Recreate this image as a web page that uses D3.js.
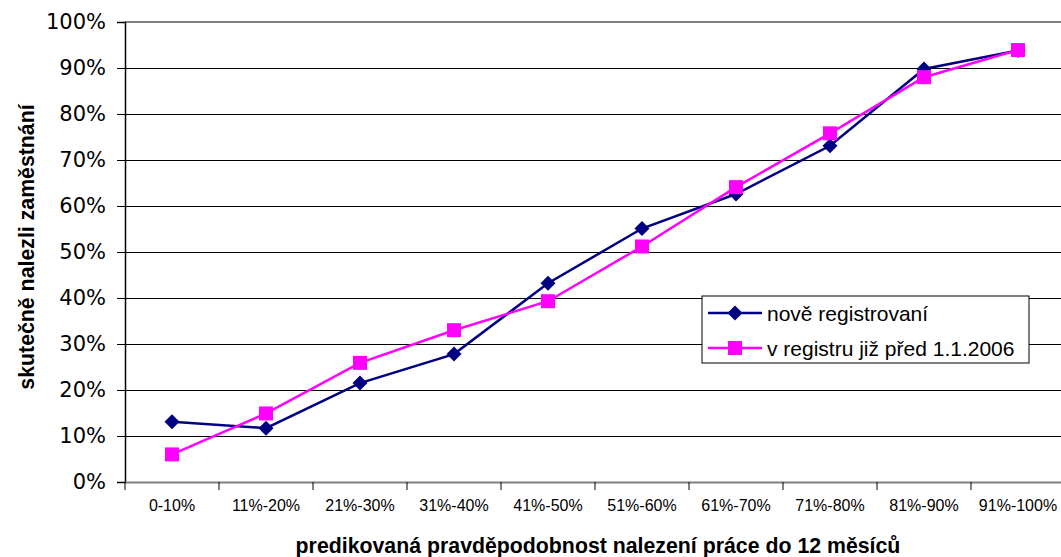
<!DOCTYPE html>
<html>
<head>
<meta charset="utf-8">
<script src="https://cdn.jsdelivr.net/npm/d3@7"></script>
<style>
  html, body { margin: 0; padding: 0; background: #fff; }
  svg { display: block; }
</style>
</head>
<body>
<svg id="chart" width="1061" height="557"></svg>
<script>
// Predicted vs. actual job-finding rate by prediction band
const categories = ["0-10%", "11%-20%", "21%-30%", "31%-40%", "41%-50%", "51%-60%", "61%-70%", "71%-80%", "81%-90%", "91%-100%"];
const novyRegistrovani = [0.131, 0.117, 0.215, 0.278, 0.432, 0.551, 0.626, 0.731, 0.898, 0.938];
const vRegistru = [0.060, 0.149, 0.259, 0.330, 0.393, 0.512, 0.641, 0.758, 0.880, 0.939];
const yTicks = [0, 0.1, 0.2, 0.3, 0.4, 0.5, 0.6, 0.7, 0.8, 0.9, 1.0];

const seriesList = [
  { name: "nově registrovaní", values: novyRegistrovani, color: "#000080", marker: "diamond" },
  { name: "v registru již před 1.1.2006", values: vRegistru, color: "#FF00FF", marker: "square" }
];

const svg = d3.select("#chart");
const plot = { left: 125, right: 1065, top: 22, bottom: 482 };
const sans = "Arial, 'Liberation Sans', sans-serif";

const x = d3.scaleBand().domain(categories).range([plot.left, plot.right]);
const y = d3.scaleLinear().domain([0, 1]).range([plot.bottom, plot.top]);

// horizontal gridlines
svg.append("g")
  .selectAll("line")
  .data(yTicks.filter(t => t > 0 && t < 1))
  .join("line")
  .attr("x1", plot.left).attr("x2", plot.right)
  .attr("y1", d => y(d)).attr("y2", d => y(d))
  .attr("stroke", "#000").attr("stroke-width", 1)
  .attr("shape-rendering", "crispEdges");

// top border of plot area
svg.append("line")
  .attr("x1", plot.left).attr("x2", plot.right)
  .attr("y1", y(1)).attr("y2", y(1))
  .attr("stroke", "#808080").attr("stroke-width", 2);

// y axis
const yAxis = svg.append("g")
  .attr("transform", `translate(${plot.left},0)`)
  .call(d3.axisLeft(y).tickValues(yTicks).tickFormat(d3.format(".0%")).tickSize(8).tickPadding(11));
yAxis.select(".domain").attr("stroke", "#000").attr("stroke-width", 1.5);
yAxis.selectAll(".tick line").attr("stroke", "#000");
yAxis.selectAll("text")
  .attr("font-family", "'DejaVu Sans', Verdana, sans-serif")
  .attr("font-size", 21)
  .attr("fill", "#000");

// x axis
const xAxis = svg.append("g")
  .attr("transform", `translate(0,${plot.bottom})`)
  .call(d3.axisBottom(x).tickSize(0).tickPadding(18));
xAxis.select(".domain").attr("stroke", "#808080").attr("stroke-width", 2);
xAxis.selectAll("text")
  .attr("font-family", sans)
  .attr("font-size", 16)
  .attr("fill", "#000");
// category boundary ticks
svg.append("g")
  .selectAll("line")
  .data(d3.range(categories.length + 1))
  .join("line")
  .attr("x1", i => plot.left + i * x.step())
  .attr("x2", i => plot.left + i * x.step())
  .attr("y1", plot.bottom).attr("y2", plot.bottom + 8)
  .attr("stroke", "#000").attr("stroke-width", 1);

// axis titles
svg.append("text")
  .attr("x", 598).attr("y", 553)
  .attr("text-anchor", "middle")
  .attr("font-family", sans)
  .attr("font-weight", "bold").attr("font-size", 21.3)
  .text("predikovaná pravděpodobnost nalezení práce do 12 měsíců");

svg.append("text")
  .attr("transform", "translate(34,247) rotate(-90)")
  .attr("text-anchor", "middle")
  .attr("font-family", sans)
  .attr("font-weight", "bold").attr("font-size", 21.3)
  .text("skutečně nalezli zaměstnání");

// series lines and markers
const cx = d => x(d) + x.bandwidth() / 2;
const line = d3.line().x((v, i) => cx(categories[i])).y(v => y(v));

function drawMarker(g, type, color) {
  if (type === "diamond") {
    g.append("path").attr("d", "M0,-7.5L7.5,0L0,7.5L-7.5,0Z").attr("fill", color);
  } else {
    g.append("rect").attr("x", -7).attr("y", -7).attr("width", 14).attr("height", 14).attr("fill", color);
  }
}

seriesList.forEach(s => {
  svg.append("path")
    .datum(s.values)
    .attr("d", line)
    .attr("fill", "none")
    .attr("stroke", s.color)
    .attr("stroke-width", 2.5);
  s.values.forEach((v, i) => {
    const g = svg.append("g").attr("transform", `translate(${cx(categories[i])},${y(v)})`);
    drawMarker(g, s.marker, s.color);
  });
});

// legend
const legend = svg.append("g").attr("transform", "translate(702,296)");
legend.append("rect")
  .attr("width", 327).attr("height", 67)
  .attr("fill", "#fff").attr("stroke", "#000").attr("stroke-width", 1);
seriesList.forEach((s, i) => {
  const ly = 17 + i * 35;
  legend.append("line")
    .attr("x1", 6).attr("x2", 60).attr("y1", ly).attr("y2", ly)
    .attr("stroke", s.color).attr("stroke-width", 2.5);
  const g = legend.append("g").attr("transform", `translate(33,${ly})`);
  drawMarker(g, s.marker, s.color);
  legend.append("text")
    .attr("x", 65).attr("y", ly + 7.5)
    .attr("font-family", sans)
    .attr("font-size", 21)
    .text(s.name);
});
</script>
</body>
</html>
